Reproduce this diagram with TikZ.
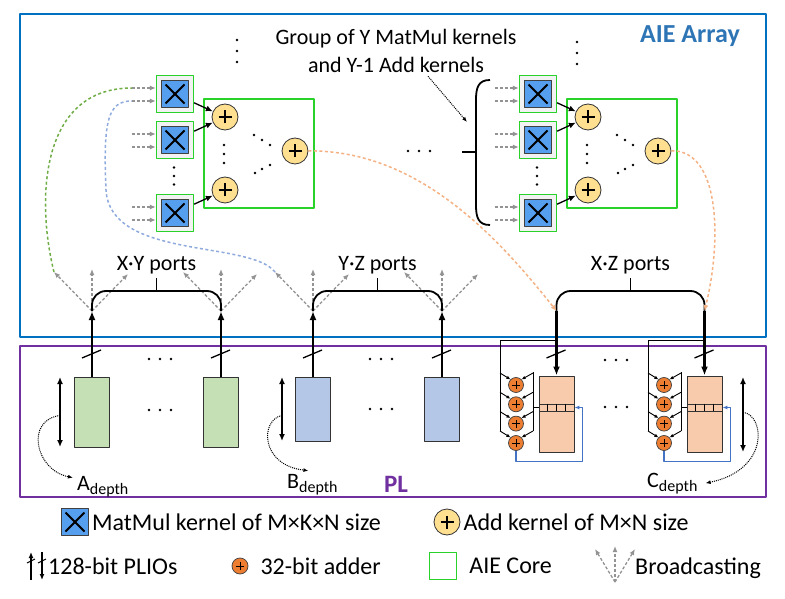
\documentclass[tikz,border=0pt]{standalone}
\usepackage{fontspec}
\setmainfont{Carlito}
\usetikzlibrary{arrows.meta,positioning,calc}

\definecolor{aieblue}{RGB}{0,112,192}
\definecolor{aietext}{RGB}{46,117,182}
\definecolor{plpurple}{RGB}{112,48,160}
\definecolor{mmblue}{RGB}{86,158,238}
\definecolor{addyellow}{RGB}{255,224,145}
\definecolor{coregreen}{RGB}{40,210,40}
\definecolor{bufgreen}{RGB}{197,224,180}
\definecolor{bufblue}{RGB}{180,199,231}
\definecolor{buforange}{RGB}{248,203,173}
\definecolor{adderorange}{RGB}{237,125,49}
\definecolor{loopblue}{RGB}{68,114,196}
\definecolor{linkgreen}{RGB}{112,173,71}
\definecolor{linkblue}{RGB}{143,170,220}
\definecolor{linkorange}{RGB}{244,177,131}

\tikzset{
  mmk/.style={rectangle, minimum size=37pt, inner sep=0pt, draw=coregreen, line width=1.3pt, fill=black!5,
    path picture={
      \fill[mmblue, draw=black!75, line width=0.8pt] ([shift={(5pt,-5pt)}]path picture bounding box.north west) rectangle ([shift={(-5pt,5pt)}]path picture bounding box.south east);
      \draw[black, line width=1.8pt] ([shift={(9pt,-9pt)}]path picture bounding box.north west) -- ([shift={(-9pt,9pt)}]path picture bounding box.south east);
      \draw[black, line width=1.8pt] ([shift={(-9pt,-9pt)}]path picture bounding box.north east) -- ([shift={(9pt,9pt)}]path picture bounding box.south west);}},
  mmicon/.style={rectangle, minimum size=27pt, inner sep=0pt, fill=mmblue, draw=black!75, line width=0.8pt,
    path picture={
      \draw[black, line width=1.8pt] ([shift={(4pt,-4pt)}]path picture bounding box.north west) -- ([shift={(-4pt,4pt)}]path picture bounding box.south east);
      \draw[black, line width=1.8pt] ([shift={(-4pt,-4pt)}]path picture bounding box.north east) -- ([shift={(4pt,4pt)}]path picture bounding box.south west);}},
  addk/.style={circle, minimum size=26pt, inner sep=0pt, fill=addyellow, draw=black!80, line width=0.8pt,
    path picture={
      \draw[black, line width=1.5pt] ([xshift=-6.5pt]path picture bounding box.center) -- ([xshift=6.5pt]path picture bounding box.center);
      \draw[black, line width=1.5pt] ([yshift=-6.5pt]path picture bounding box.center) -- ([yshift=6.5pt]path picture bounding box.center);}},
  oadd/.style={circle, minimum size=15pt, inner sep=0pt, fill=adderorange, draw=black!75, line width=0.7pt,
    path picture={
      \draw[black, line width=1pt] ([xshift=-4pt]path picture bounding box.center) -- ([xshift=4pt]path picture bounding box.center);
      \draw[black, line width=1pt] ([yshift=-4pt]path picture bounding box.center) -- ([yshift=4pt]path picture bounding box.center);}},
  corebox/.style={rectangle, draw=coregreen, line width=1.6pt, minimum width=110pt, minimum height=109pt, inner sep=0pt},
  bufbox/.style={rectangle, draw=black!80, line width=1pt, minimum width=35pt, inner sep=0pt},
  cellrow/.style={rectangle, draw=black!80, line width=0.8pt, minimum width=35pt, minimum height=7pt, inner sep=0pt},
  kar/.style={-{Latex[length=7pt,width=6pt]}, line width=1.3pt},
  bca/.style={gray!85, line width=1.3pt, dash pattern=on 3pt off 2pt, -{Latex[length=6pt,width=5pt]}},
  brc/.style={line width=1.8pt, rounded corners=14pt},
  plio/.style={line width=2.2pt, -{Latex[length=9pt,width=7pt]}},
  cutln/.style={line width=1.3pt},
  railln/.style={line width=1pt},
  rar/.style={line width=0.9pt, -{Latex[length=4pt,width=3.5pt]}},
  fbln/.style={loopblue, line width=1.2pt, -{Latex[length=5pt,width=4pt]}},
  deparr/.style={line width=1.5pt, {Latex[length=7pt,width=6pt]}-{Latex[length=7pt,width=6pt]}},
  dotarr/.style={densely dotted, line width=1pt, -{Latex[length=5pt,width=4pt]}},
  gdash/.style={linkgreen, line width=1.5pt, dash pattern=on 3pt off 2.5pt},
  bdash/.style={linkblue, line width=1.5pt, dash pattern=on 3pt off 2.5pt},
  odash/.style={linkorange, line width=1.5pt, dash pattern=on 3pt off 2.5pt, -{Latex[length=6pt,width=5pt]}},
  lgtext/.style={font=\fontsize{24}{24}\selectfont, inner sep=1pt}
}

\begin{document}
\begin{tikzpicture}[x=1pt, y=-1pt, line join=round, font=\fontsize{22}{28}\selectfont]
  \useasboundingbox (0,0) rectangle (785,599);

  % --- Small helpers: dots, cut marks, subscript ---
  \def\vdts(#1,#2,#3){\fill (#1,#2-#3) circle (1.3pt); \fill (#1,#2) circle (1.3pt); \fill (#1,#2+#3) circle (1.3pt);}
  \def\hdts(#1,#2){\fill (#1-11,#2) circle (1.3pt); \fill (#1,#2) circle (1.3pt); \fill (#1+11,#2) circle (1.3pt);}
  \def\cutmark#1{\draw[cutln] ([shift={(-10pt,-47pt)}]#1) -- ++(19,-8);}
  \def\dsub#1{\raisebox{-4pt}{\fontsize{16}{16}\selectfont #1}}

  % --- Frames ---
  \draw[aieblue, line width=2.6pt] (20,14) rectangle (766,337);
  \draw[plpurple, line width=2.6pt] (20,346) rectangle (766,497);
  \node[font=\fontsize{26}{26}\selectfont\bfseries, text=aietext] (aie) at (690,36) {AIE Array};
  \node[font=\fontsize{25}{25}\selectfont\bfseries, text=plpurple] (pl) at (396,484) {PL};

  % --- One group of MatMul and Add kernels ---
  \def\mmgroup#1#2{%
    \begin{scope}[xshift=#2]
      \node[corebox] (#1c) at (259,153.5) {};
      \node[mmk] (#1m1) at (175,94) {};
      \node[mmk] (#1m2) at (175,140) {};
      \node[mmk] (#1m3) at (175,213) {};
      \node[addk] (#1a1) at (225,117) {};
      \node[addk] (#1a2) at (225,190) {};
      \node[addk] (#1a3) at (295,151) {};
      \draw[kar] (#1m1) -- (#1a1);
      \draw[kar] (#1m2) -- (#1a1);
      \draw[kar] (#1m3) -- (#1a2);
      % inputs
      \draw[bca] ([shift={(-24pt,6pt)}]#1m1.west) coordinate (#1m1a) -- ([yshift=6pt]#1m1.west);
      \draw[bca] ([shift={(-24pt,-7pt)}]#1m1.west) coordinate (#1m1b) -- ([yshift=-7pt]#1m1.west);
      \draw[bca] ([shift={(-24pt,6pt)}]#1m2.west) -- ([yshift=6pt]#1m2.west);
      \draw[bca] ([shift={(-24pt,-7pt)}]#1m2.west) -- ([yshift=-7pt]#1m2.west);
      \draw[bca] ([shift={(-24pt,6pt)}]#1m3.west) -- ([yshift=6pt]#1m3.west);
      \draw[bca] ([shift={(-24pt,-7pt)}]#1m3.west) -- ([yshift=-7pt]#1m3.west);
      % dots
      \vdts(174,176,8.5)
      \vdts(224,154,9)
      \fill (254,135) circle (1.3pt); \fill (262,140) circle (1.3pt); \fill (270,145) circle (1.3pt);
      \fill (255,173) circle (1.3pt); \fill (262,169) circle (1.3pt); \fill (270,165) circle (1.3pt);
    \end{scope}}
  \mmgroup{l}{0}
  \mmgroup{r}{363}
  \vdts(237,51,11)
  \vdts(577,53,11)
  \hdts(419,151)

  % --- Group annotation ---
  \node[align=center] (grp) at (396,51) {Group of Y MatMul kernels\\and Y-1 Add kernels};
  \coordinate (gtip) at (467,122);
  \draw[dotarr] ([xshift=32pt]grp.south) -- (gtip);
  \draw[line width=1.8pt] (490,80) .. controls (478,80) and (476,88) .. (476,100) -- (476,205) .. controls (476,217) and (478,225) .. (490,225);
  \draw[line width=1.8pt] (462,152) -- (476,152);

  % --- Ports, broadcasting and braces ---
  \coordinate (p1) at (92,311);
  \coordinate (p2) at (221,311);
  \coordinate (p3) at (313,311);
  \coordinate (p4) at (442,311);
  \coordinate (p5) at (556.5,311);
  \coordinate (p6) at (704.5,311);
  \def\bcast#1{\draw[bca] (#1) -- ++(-38,-39) coordinate (#1l); \draw[bca] (#1) -- ++(0,-42); \draw[bca] (#1) -- ++(36,-37);}
  \bcast{p1} \bcast{p2} \bcast{p3} \bcast{p4}
  \def\pbrace#1#2#3{%
    \draw[brc] (#1) |- ($(#1)!.5!(#2)+(0,-20)$) -| (#2);
    \draw[brc] ($(#1)!.5!(#2)+(0,-20)$) -- ++(0,-13) node[above, inner sep=3pt] {#3};}
  \pbrace{p1}{p2}{X·Y ports}
  \pbrace{p3}{p4}{Y·Z ports}
  \pbrace{p5}{p6}{X·Z ports}

  % --- Links from PLIOs to kernels ---
  \draw[gdash] (p1l) .. controls (36,200) and (40,88) .. (lm1a);
  \draw[bdash] (p3l) .. controls (250,240) and (110,260) .. (106,190) .. controls (103,120) and (108,101) .. (lm1b);
  \draw[odash] (la3) .. controls (420,150) and (500,240) .. (p5);
  \draw[odash] (ra3) .. controls (720,150) and (722,240) .. (p6);

  % --- PL buffers for A and B ---
  \node[bufbox, fill=bufgreen, minimum height=70pt] (a1) at (92,412) {};
  \node[bufbox, fill=bufgreen, minimum height=70pt] (a2) at (221,412) {};
  \node[bufbox, fill=bufblue, minimum height=64pt] (b1) at (313,409) {};
  \node[bufbox, fill=bufblue, minimum height=64pt] (b2) at (442,409) {};
  \draw[plio] (a1) -- (p1);
  \draw[plio] (a2) -- (p2);
  \draw[plio] (b1) -- (p3);
  \draw[plio] (b2) -- (p4);
  \cutmark{p1} \cutmark{p2} \cutmark{p3} \cutmark{p4}
  \hdts(160,359) \hdts(160,410)
  \hdts(381,359) \hdts(381,409)

  % --- PL buffers for C with adder chains ---
  \def\ostack#1#2{%
    \begin{scope}[xshift=#2]
      \node[bufbox, fill=buforange, minimum height=76pt] (#1) at (556.5,414) {};
      \node[cellrow] (#1q) at (556.5,407.5) {};
      \draw[line width=0.8pt] ([xshift=8.75pt]#1q.north west) -- ([xshift=8.75pt]#1q.south west);
      \draw[line width=0.8pt] (#1q.north) -- (#1q.south);
      \draw[line width=0.8pt] ([xshift=-8.75pt]#1q.north east) -- ([xshift=-8.75pt]#1q.south east);
      \node[oadd] (#1s1) at (516,385) {};
      \node[oadd] (#1s2) at (516,404.3) {};
      \node[oadd] (#1s3) at (516,423.6) {};
      \node[oadd] (#1s4) at (516,443) {};
      \draw[railln] ([yshift=35pt]#1.north) -| ([shift={(-16pt,12pt)}]#1s4.center);
      \draw[railln] ([shift={(17pt,13pt)}]#1s1.center) -- ([shift={(17pt,12pt)}]#1s4.center);
      \draw[railln] (#1q.west) -- ++(-6,0);
      \draw[rar] ([shift={(-16pt,12pt)}]#1s1.center) -- (#1s1.135);
      \draw[rar] ([shift={(-16pt,12pt)}]#1s2.center) -- (#1s2.135);
      \draw[rar] ([shift={(-16pt,12pt)}]#1s3.center) -- (#1s3.135);
      \draw[rar] ([shift={(-16pt,12pt)}]#1s4.center) -- (#1s4.135);
      \draw[rar] ([shift={(17pt,12pt)}]#1s1.center) -- (#1s1.45);
      \draw[rar] ([shift={(17pt,12pt)}]#1s2.center) -- (#1s2.45);
      \draw[rar] ([shift={(17pt,12pt)}]#1s3.center) -- (#1s3.45);
      \draw[rar] ([shift={(17pt,12pt)}]#1s4.center) -- (#1s4.45);
      \draw[fbln] (#1s4.south) -- ++(0,11) -| ([xshift=8pt]#1q.east) -- (#1q.east);
    \end{scope}}
  \ostack{c1}{0}
  \ostack{c2}{148}
  \draw[plio] (p5) -- (c1);
  \draw[plio] (p6) -- (c2);
  \cutmark{p5} \cutmark{p6}
  \hdts(616,360) \hdts(616,407)

  % --- Buffer depths ---
  \draw[deparr] (60,377) -- coordinate[pos=.55] (ad) (60,447);
  \draw[deparr] (282,377) -- coordinate[pos=.6] (bd) (282,441);
  \draw[deparr] (743,377) -- coordinate[pos=.47] (cd) (743,452);
  \node[anchor=base west, inner sep=0pt] (adep) at (77,490) {A\dsub{depth}};
  \node[anchor=base west, inner sep=0pt] (bdep) at (287,488) {B\dsub{depth}};
  \node[anchor=base west, inner sep=0pt] (cdep) at (647,487) {C\dsub{depth}};
  \draw[dotarr] (ad) .. controls (25,420) and (35,470) .. ([shift={(-4pt,-2pt)}]adep.north west);
  \draw[dotarr] (bd) .. controls (260,420) and (260,465) .. ([shift={(-4pt,3pt)}]bdep.north);
  \draw[dotarr] (cd) .. controls (765,415) and (770,470) .. ([xshift=8pt]cdep.east);

  % --- Legend ---
  \node[mmicon] (lgm) at (75,522) {};
  \node[lgtext, right=2pt of lgm] (lgmt) {MatMul kernel of M×K×N size};
  \node[addk] (lga) at (447,522) {};
  \node[lgtext, right=2pt of lga] (lgat) {Add kernel of M×N size};
  \draw[line width=1.3pt, -{Latex[length=6pt,width=5pt]}] (31,580) -- (31,552);
  \draw[line width=1.3pt, -{Latex[length=6pt,width=5pt]}] (42,552) -- (42,580);
  \draw[line width=1pt] (27,563) -- (35,559);
  \draw[line width=1pt] (38,563) -- (46,559);
  \node[lgtext, anchor=west] (lgpt) at (47,566) {128-bit PLIOs};
  \node[oadd, minimum size=16pt] (lgo) at (240,566) {};
  \node[lgtext, right=11pt of lgo] (lgot) {32-bit adder};
  \node[draw=coregreen, line width=1.4pt, minimum size=27pt, inner sep=0pt] (lgc) at (443,566) {};
  \node[lgtext, right=11pt of lgc] (lgct) {AIE Core};
  \coordinate (lgb) at (615,582);
  \draw[bca] (lgb) -- ++(-20,-33);
  \draw[bca] (lgb) -- ++(0,-36);
  \draw[bca] (lgb) -- ++(20,-33);
  \node[lgtext, anchor=west] (lgbt) at (634,568) {Broadcasting};
\end{tikzpicture}
\end{document}
